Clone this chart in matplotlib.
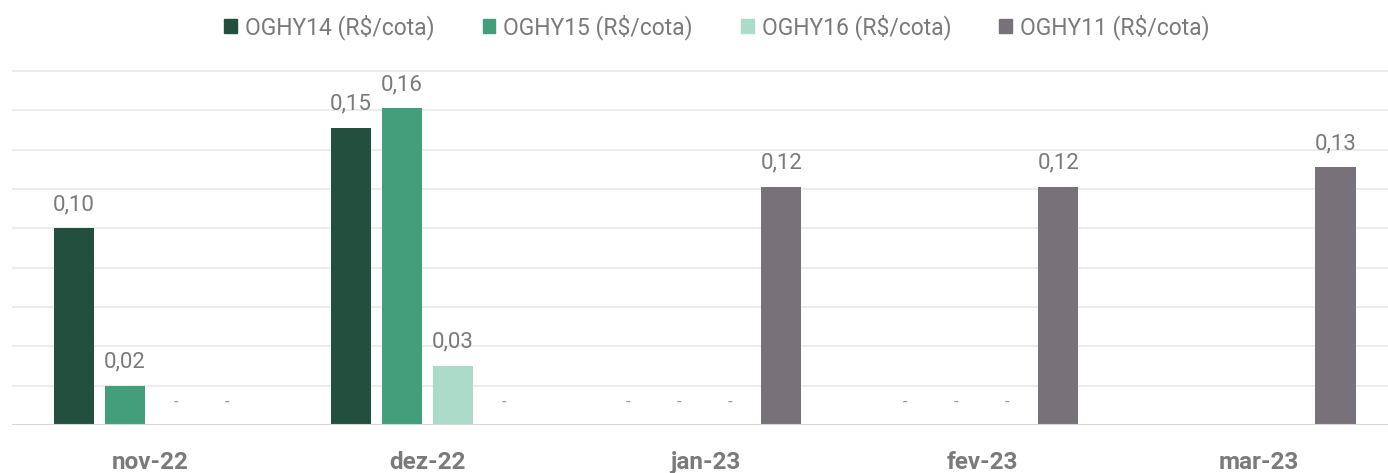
import numpy as np
import matplotlib
matplotlib.use("Agg")
import matplotlib.pyplot as plt
import matplotlib.patches as patches

plt.rcParams['font.family'] = ['Roboto', 'DejaVu Sans']

# Data
months = ["nov-22", "dez-22", "jan-23", "fev-23", "mar-23"]
series_names = ["OGHY14 (R$/cota)", "OGHY15 (R$/cota)", "OGHY16 (R$/cota)", "OGHY11 (R$/cota)"]
oghy14 = [0.100, 0.151, 0.0, 0.0, None]
oghy15 = [0.020, 0.161, 0.0, 0.0, None]
oghy16 = [0.0, 0.030, 0.0, 0.0, None]
oghy11 = [0.0, 0.0, 0.121, 0.121, 0.131]
series = [oghy14, oghy15, oghy16, oghy11]

colors = ["#234f3e", "#429e7b", "#acdcc9", "#77727a"]
text_gray = "#7a7a7a"

fig = plt.figure(figsize=(13.88, 4.73), dpi=100)
ax = fig.add_axes([12/1388, 48/473, 1 - 12/1388, (425 - 70)/473])

x = np.arange(len(months))
step = 0.184
width = 0.145
offsets = (np.arange(4) - 1.5) * step

for i, vals in enumerate(series):
    for j, v in enumerate(vals):
        if v is None:
            continue
        xpos = x[j] + offsets[i]
        ax.bar(xpos, v, width=width, color=colors[i], zorder=3)
        if v == 0:
            ax.annotate("-", (xpos, v), xytext=(0, 16), textcoords="offset points",
                        ha="center", va="center", fontsize=12, color="#9a9a9a")
        else:
            lbl = f"{v:.2f}".replace(".", ",")
            ax.annotate(lbl, (xpos, v), xytext=(0, 17), textcoords="offset points",
                        ha="center", va="center", fontsize=16, color=text_gray)

ax.set_xlim(-0.5, (1388 - 151) / 277)
ax.set_ylim(0, 0.1805)
ax.set_yticks(np.arange(0, 0.181, 0.02))
ax.yaxis.grid(True, color="#ebebeb", linewidth=1.3, zorder=0)
ax.axhline(0, color="#d6d6d6", linewidth=1.5, zorder=4)
ax.tick_params(axis="y", left=False, labelleft=False)
ax.tick_params(axis="x", bottom=False, pad=15)
ax.set_xticks(x)
ax.set_xticklabels(months, fontsize=17.5, fontweight="bold", color=text_gray)
for s in ax.spines.values():
    s.set_visible(False)

handles = [patches.Patch(color=c) for c in colors]
fig.legend(handles, series_names, loc="center", bbox_to_anchor=(717/1388, 1 - 27/473),
           ncol=4, frameon=False, fontsize=16.5, labelcolor=text_gray,
           handlelength=0.55, handleheight=0.55, handletextpad=0.35, columnspacing=2.1)

fig.savefig("out.png", dpi=100)
